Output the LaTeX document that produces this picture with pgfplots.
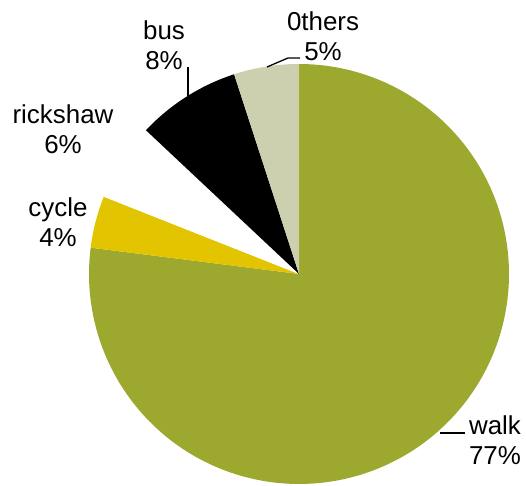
\documentclass[border=0pt]{standalone}
\usepackage{pgfplots}
\pgfplotsset{compat=1.18}
\usepackage{fontspec}
\setmainfont{Liberation Sans}
\definecolor{walkc}{RGB}{157,168,46}
\definecolor{cyclec}{RGB}{227,196,0}
\definecolor{rickc}{RGB}{255,255,255}
\definecolor{busc}{RGB}{0,0,0}
\definecolor{othc}{RGB}{204,208,174}
% shares in percent
\def\pWalk{77}\def\pCycle{4}\def\pRick{6}\def\pBus{8}\def\pOth{5}
\def\cx{299}\def\cy{212}\def\rr{210}
\pgfmathsetmacro{\aA}{90}
\pgfmathsetmacro{\aB}{\aA-3.6*\pWalk}
\pgfmathsetmacro{\aC}{\aB-3.6*\pCycle}
\pgfmathsetmacro{\aD}{\aC-3.6*\pRick}
\pgfmathsetmacro{\aE}{\aD-3.6*\pBus}
\pgfmathsetmacro{\aF}{\aE-3.6*\pOth}
\tikzset{lbl/.style={font=\fontsize{26}{30}\selectfont,align=center,inner sep=0pt}}
\begin{document}
\begin{tikzpicture}
\begin{axis}[x=1bp,y=1bp,xmin=0,xmax=526,ymin=0,ymax=486,hide axis,clip=false]
\path (axis cs:0,0) rectangle (axis cs:526,486);
\addplot[draw=none,fill=walkc,domain=\aB:\aA,samples=150,variable=\t]
  ({\cx+\rr*cos(\t)},{\cy+\rr*sin(\t)}) -- (axis cs:\cx,\cy) -- cycle;
\addplot[draw=none,fill=cyclec,domain=\aC:\aB,samples=20,variable=\t]
  ({\cx+\rr*cos(\t)},{\cy+\rr*sin(\t)}) -- (axis cs:\cx,\cy) -- cycle;
\addplot[draw=none,fill=rickc,domain=\aD:\aC,samples=20,variable=\t]
  ({\cx+\rr*cos(\t)},{\cy+\rr*sin(\t)}) -- (axis cs:\cx,\cy) -- cycle;
\addplot[draw=none,fill=busc,domain=\aE:\aD,samples=30,variable=\t]
  ({\cx+\rr*cos(\t)},{\cy+\rr*sin(\t)}) -- (axis cs:\cx,\cy) -- cycle;
\addplot[draw=none,fill=othc,domain=\aF:\aE,samples=20,variable=\t]
  ({\cx+\rr*cos(\t)},{\cy+\rr*sin(\t)}) -- (axis cs:\cx,\cy) -- cycle;
% leader lines
\addplot[black,line width=1.3pt] coordinates {(188,419) (188,389)};
\addplot[black,line width=1.3pt] coordinates {(267,419) (288,428) (300,428)};
\addplot[black,line width=1.3pt] coordinates {(440,53) (465,53)};
% labels
\node[lbl] at (axis cs:495,46) {walk\\77\%};
\node[lbl] at (axis cs:58,264) {cycle\\4\%};
\node[lbl] at (axis cs:63,357) {rickshaw\\6\%};
\node[lbl] at (axis cs:164,441) {bus\\8\%};
\node[lbl] at (axis cs:323,450) {0thers\\5\%};
\end{axis}
\end{tikzpicture}
\end{document}
